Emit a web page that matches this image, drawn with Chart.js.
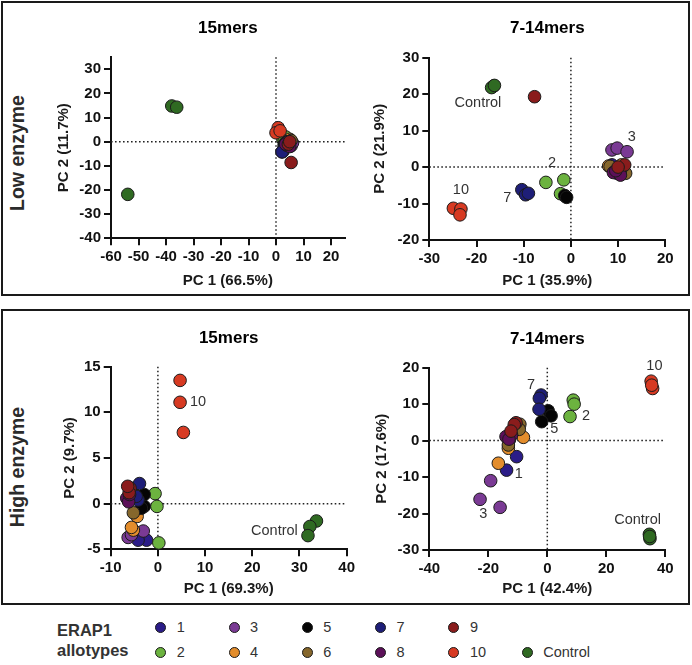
<!DOCTYPE html>
<html lang="en">
<head>
    <meta charset="UTF-8">
    <title>ERAP1 allotypes PCA</title>
    <script src="https://cdn.jsdelivr.net/npm/chart.js"></script>
    <style>
        body {
            margin: 0;
            background: #ffffff;
            font-family: "Liberation Sans", Arial, sans-serif;
        }
        #page {
            position: relative;
            width: 692px;
            height: 665px;
            overflow: hidden;
        }
        .panel {
            position: absolute;
            box-sizing: border-box;
            border: 2px solid #1a1a1a;
        }
        canvas {
            position: absolute;
        }
        .side {
            position: absolute;
            width: 200px;
            margin-left: -100px;
            margin-top: -12px;
            height: 24px;
            line-height: 24px;
            text-align: center;
            font-weight: bold;
            font-size: 19.5px;
            color: #2b2b2b;
            transform: rotate(-90deg);
        }
        .key {
            position: absolute;
            font-weight: bold;
            font-size: 16.5px;
            color: #333;
        }
        .dot {
            position: absolute;
            width: 11px;
            height: 11px;
            margin: -5.5px 0 0 -5.5px;
            box-sizing: border-box;
            border-radius: 50%;
            border: 1px solid #1b1b1b;
        }
        .lab {
            position: absolute;
            font-size: 14.5px;
            color: #333;
            line-height: 18px;
            margin-top: -9px;
        }
    </style>
</head>
<body>
<div id="page">
    <div class="panel" style="left:1px; top:1px; width:689px; height:295px;"></div>
    <div class="panel" style="left:1px; top:309px; width:689px; height:296px;"></div>
    <div class="side" style="left:17px; top:153px;">Low enzyme</div>
    <div class="side" style="left:17px; top:467px;">High enzyme</div>

    <canvas id="lowShort" width="325" height="291" style="left:30px; top:4px;"></canvas>
    <canvas id="lowMid" width="330" height="291" style="left:355px; top:4px;"></canvas>
    <canvas id="highShort" width="328" height="286" style="left:30px; top:314px;"></canvas>
    <canvas id="highMid" width="330" height="286" style="left:355px; top:314px;"></canvas>

    <div class="key" style="left:57px; top:621px;">ERAP1</div>
    <div class="key" style="left:57px; top:641px;">allotypes</div>
    <div id="legend"></div>
</div>

<script>
    // groups (ERAP1 allotypes) and their colours
    const groups = ['1', '2', '3', '4', '5', '6', '7', '8', '9', '10', 'Control'];
    const groupColors = ['#2b1c88', '#6cb33f', '#7a3a94', '#e38d2c', '#050505', '#86672c',
                         '#1e1e78', '#5c1059', '#8a1c1c', '#d73a22', '#2f6a22'];

    // Low enzyme, 15mers (one inner array per group, same order as groups)
    const lowShortX = [[3, 2.5, 2.2], [2.5, 3.5, 3], [5.5, 5, 6], [4.5, 5, 4], [3.5, 4, 3],
                       [5, 5.5, 4.5], [4.4, 3, 2.2], [4, 5, 3.5], [5.5, 4.5, 5], [0.8, 0, 1.5],
                       [-37.9, -36.1, -53.9]];
    const lowShortY = [[-2, -4, -4.2], [1, 2, 0.5], [-1.7, -1, -0.5], [0.5, 1, -0.5], [-0.5, 0, -1],
                       [0, 0.5, -1], [0, -2.5, -4.2], [-1.5, -2, -1], [-8.6, -1, 0], [5.8, 3.7, 4.5],
                       [14.8, 14.3, -21.8]];

    // Low enzyme, 7-14mers
    const lowMidX = [[8.7, 9.8, 9.5], [-5.3, -1.5, -2.2], [8.7, 9.8, 11.9], [10.7, 11, 8],
                     [-1.1, -1.3, -0.9], [11.6, 8.3, 10.5], [-10.4, -9.6, -9], [9, 10.5, 9.5],
                     [-7.7, 11.4, 10], [-24.9, -23.3, -23.5], [-16.4, -16.8, -16.2]];
    const lowMidY = [[0.6, -1.7, -0.5], [-4.2, -3.5, -7.3], [4.7, 5.2, 4.2], [0.6, -0.5, 0.3],
                     [-8.1, -7.8, -8.3], [-1.7, 0.2, -1], [-6.2, -7.6, -7.2], [-1.5, -2.2, -1],
                     [19.3, 0.6, 0], [-11.3, -11.5, -13.1], [22.2, 21.8, 22.4]];

    // High enzyme, 15mers
    const highShortX = [[-3.4, -2.4, -4.2], [-0.6, -0.2, 0.2], [-3.1, -6.3, -5.6], [-4.4, -5.2, -5.6],
                        [-2.9, -2.9, -3.5], [-5.4, -5.2, -5.8], [-3.9, -4.2, -4.6], [-6.6, -6.2, -6],
                        [-5.9, -6.1, -6.4], [4.7, 4.7, 5.4], [33.6, 32.2, 31.8]];
    const highShortY = [[-3.5, -4, -4], [1.1, -0.3, -4.3], [-3, -3.7, -3.4], [-1.4, -2.9, -2.6],
                        [1, -0.3, -0.5], [1.4, -1, 1.7], [2.2, 0.4, 0.8], [0.6, 0.2, 1],
                        [1.7, 1.2, 1.9], [13.5, 11.1, 7.8], [-1.9, -2.5, -3.5]];

    // High enzyme, 7-14mers
    const highMidX = [[-10.4, -13.8, -12.8], [8.8, 9.1, 7.7], [-19.2, -22.8, -16], [-8.1, -13.2, -16.6],
                      [0.3, 1.3, -1.9], [-9.3, -9.5, -13.2], [-2.1, -2.7, -2.8], [-14, -12.1, -13],
                      [-10.6, -11.2, -12.3], [35.2, 35.7, 35.4], [34.6, 34.8, 34.7]];
    const highMidY = [[-4.4, -8.1, 0.3], [11.1, 10, 6.6], [-11, -16.1, -18.3], [0.9, -2.1, -6.2],
                      [8.2, 6.8, 5.2], [4.5, 3.1, -1.2], [12.5, 11.6, 8.6], [1.1, 1.5, 0.4],
                      [4.9, 4.4, 2.6], [16.3, 14.3, 15.2], [-25.7, -26.9, -26.3]];

    // text notes inside the plots
    const lowMidNotes = ['Control', '2', '3', '10', '7'];
    const lowMidNoteX = [-19.7, -4.0, 12.9, -23.3, -13.5];
    const lowMidNoteY = [17.5, 1.0, 8.2, -6.3, -8.4];
    const highShortNotes = ['10', 'Control'];
    const highShortNoteX = [8.5, 24.7];
    const highShortNoteY = [11.1, -3.0];
    const highMidNotes = ['10', '7', '2', '5', '1', '3', 'Control'];
    const highMidNoteX = [36.3, -5.5, 13.1, 2.4, -9.7, -21.7, 30.6];
    const highMidNoteY = [20.5, 15.3, 6.8, 3.2, -9.2, -20.1, -21.8];

    // axis ranges [min, max, step]
    const lowShortRange = { x: [-60, 25, 10], y: [-40, 35, 10] };
    const lowMidRange = { x: [-30, 20, 10], y: [-20, 30, 10] };
    const highShortRange = { x: [-10, 40, 10], y: [-5, 15, 5] };
    const highMidRange = { x: [-40, 40, 20], y: [-30, 20, 10] };

    Chart.defaults.font.family = '"Liberation Sans", Arial, sans-serif';

    // dotted lines through the origin
    const zeroLines = {
        id: 'zeroLines',
        beforeDatasetsDraw(chart) {
            const { ctx, chartArea: a, scales: { x, y } } = chart;
            const x0 = x.getPixelForValue(0);
            const y0 = y.getPixelForValue(0);
            ctx.save();
            ctx.strokeStyle = '#222';
            ctx.lineWidth = 1.5;
            ctx.setLineDash([1.6, 2.4]);
            ctx.beginPath();
            ctx.moveTo(x0, a.top);
            ctx.lineTo(x0, a.bottom);
            ctx.moveTo(a.left, y0);
            ctx.lineTo(a.right, y0);
            ctx.stroke();
            ctx.restore();
        }
    };

    // group labels written next to the points
    const notes = {
        id: 'notes',
        afterDatasetsDraw(chart, args, opts) {
            if (!opts.text) return;
            const { ctx, scales: { x, y } } = chart;
            ctx.save();
            ctx.font = '14.5px "Liberation Sans", Arial, sans-serif';
            ctx.fillStyle = '#333';
            ctx.textAlign = 'center';
            ctx.textBaseline = 'middle';
            opts.text.forEach((t, i) => {
                ctx.fillText(t, x.getPixelForValue(opts.x[i]), y.getPixelForValue(opts.y[i]));
            });
            ctx.restore();
        }
    };

    // f = page geometry: canvas box, plot area (L,T,R,B) and title centres
    function pcaChart(id, f, xs, ys, range, title, xTitle, yTitle, noteText, noteX, noteY) {
        const titleLine = 17 * 1.2;
        const axisHalf = 15 * 1.2 / 2;
        const yBoxLeft = f.yTitleX - axisHalf;

        const datasets = groups.map((g, i) => ({
            label: g,
            data: xs[i].map((v, k) => ({ x: v, y: ys[i][k] })),
            backgroundColor: groupColors[i],
            borderColor: '#1b1b1b',
            borderWidth: 1,
            pointRadius: 6.3,
            pointHoverRadius: 6.3,
            order: groups.length - i,
            clip: false
        }));

        const axis = (r, text, fit) => ({
            type: 'linear',
            min: r[0],
            max: r[1],
            ticks: {
                stepSize: r[2],
                includeBounds: false,
                color: '#111',
                padding: 3,
                font: { size: 15, weight: 'bold' }
            },
            grid: { display: true, drawOnChartArea: false, drawTicks: true, tickLength: 7, color: '#111', lineWidth: 2 },
            border: { display: true, color: '#111', width: 2 },
            title: { display: true, text: text, color: '#1a1a1a', padding: 0, font: { size: 15, weight: 'bold' } },
            afterFit: fit
        });

        return new Chart(document.getElementById(id), {
            type: 'scatter',
            data: { datasets },
            options: {
                responsive: false,
                animation: false,
                events: [],
                layout: {
                    autoPadding: false,
                    padding: {
                        left: yBoxLeft - f.left,
                        right: f.left + f.width - f.R,
                        top: 0,
                        bottom: f.top + f.height - (f.xTitleY + axisHalf)
                    }
                },
                scales: {
                    x: axis(range.x, xTitle, s => { s.height = f.xTitleY + axisHalf - f.B; }),
                    y: axis(range.y, yTitle, s => { s.width = f.L - yBoxLeft; })
                },
                plugins: {
                    legend: { display: false },
                    tooltip: { enabled: false },
                    title: {
                        display: true,
                        text: title,
                        fullSize: false,
                        color: '#000',
                        font: { size: 17, weight: 'bold' },
                        padding: {
                            top: f.titleY - f.top - titleLine / 2,
                            bottom: f.T - f.titleY - titleLine / 2
                        }
                    },
                    notes: { text: noteText, x: noteX, y: noteY }
                }
            },
            plugins: [zeroLines, notes]
        });
    }

    pcaChart('lowShort',
        { left: 30, top: 4, width: 325, height: 291, L: 111, T: 57.2, R: 344.75, B: 238.3, titleY: 28.3, yTitleX: 64, xTitleY: 281 },
        lowShortX, lowShortY, lowShortRange, '15mers', 'PC 1 (66.5%)', 'PC 2 (11.7%)', null, null, null);

    pcaChart('lowMid',
        { left: 355, top: 4, width: 330, height: 291, L: 429.3, T: 57.7, R: 665.3, B: 240, titleY: 28.3, yTitleX: 380.3, xTitleY: 281 },
        lowMidX, lowMidY, lowMidRange, '7-14mers', 'PC 1 (35.9%)', 'PC 2 (21.9%)', lowMidNotes, lowMidNoteX, lowMidNoteY);

    pcaChart('highShort',
        { left: 30, top: 314, width: 328, height: 286, L: 110.7, T: 366.7, R: 347, B: 549.3, titleY: 338.3, yTitleX: 70.3, xTitleY: 589.3 },
        highShortX, highShortY, highShortRange, '15mers', 'PC 1 (69.3%)', 'PC 2 (9.7%)', highShortNotes, highShortNoteX, highShortNoteY);

    pcaChart('highMid',
        { left: 355, top: 314, width: 330, height: 286, L: 429.3, T: 367.7, R: 665.3, B: 550, titleY: 339.3, yTitleX: 382, xTitleY: 589.3 },
        highMidX, highMidY, highMidRange, '7-14mers', 'PC 1 (42.4%)', 'PC 2 (17.6%)', highMidNotes, highMidNoteX, highMidNoteY);

    // legend: two rows, groups fill column by column
    const legend = document.getElementById('legend');
    const legendSlots = [0, 1, 2, 3, 4, 5, 6, 7, 8, 9, 11];
    groups.forEach((g, i) => {
        const slot = legendSlots[i];
        const cx = 160.7 + Math.floor(slot / 2) * 73.3;
        const cy = slot % 2 === 0 ? 627 : 652;
        const dot = document.createElement('div');
        dot.className = 'dot';
        dot.style.left = cx + 'px';
        dot.style.top = cy + 'px';
        dot.style.background = groupColors[i];
        legend.appendChild(dot);
        const lab = document.createElement('div');
        lab.className = 'lab';
        lab.style.left = (cx + 16) + 'px';
        lab.style.top = cy + 'px';
        lab.textContent = g;
        legend.appendChild(lab);
    });
</script>
</body>
</html>
